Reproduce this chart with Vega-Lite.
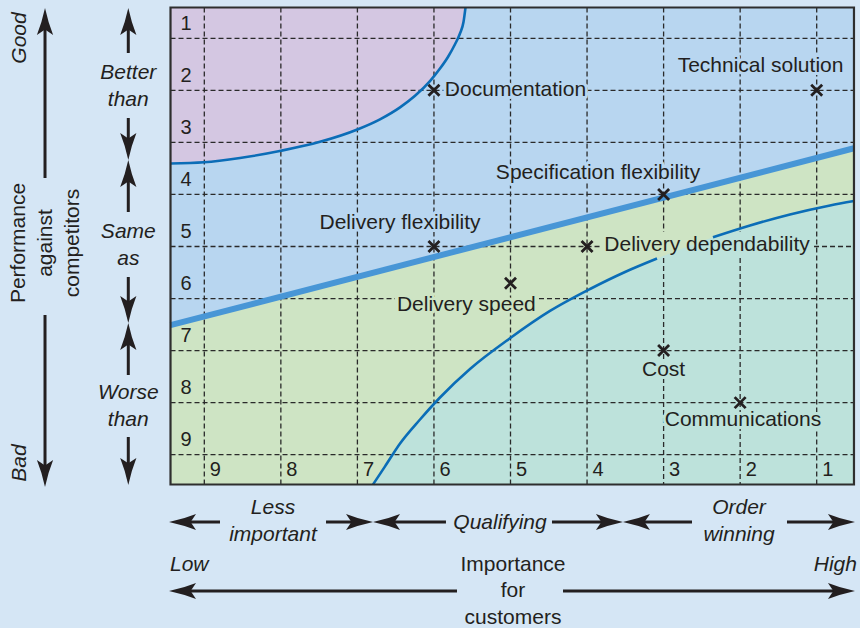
{
  "$schema": "https://vega.github.io/schema/vega-lite/v6.json",
  "width": 860,
  "height": 628,
  "padding": 0,
  "autosize": {"type": "none"},
  "background": "#d5e6f5",
  "config": {"view": {"stroke": null}},
  "datasets": {
    "plot": [{"x": 9.4415, "y": 0.408, "x2": 0.513, "y2": 9.573}],
    "split": [{"x": 9.4415, "y": 6.512}, {"x": 0.513, "y": 3.113}],
    "upper": [
      {"x": 9.4415, "y": 3.405}, {"x": 9.004, "y": 3.382}, {"x": 8.534, "y": 3.3}, {"x": 7.998, "y": 3.161},
      {"x": 7.489, "y": 2.99}, {"x": 6.992, "y": 2.748}, {"x": 6.705, "y": 2.558}, {"x": 6.443, "y": 2.328},
      {"x": 6.247, "y": 2.105}, {"x": 6.052, "y": 1.822}, {"x": 5.921, "y": 1.582}, {"x": 5.817, "y": 1.359},
      {"x": 5.725, "y": 1.115}, {"x": 5.66, "y": 0.908}, {"x": 5.614, "y": 0.687}, {"x": 5.588, "y": 0.408}
    ],
    "lower": [
      {"x": 6.796, "y": 9.573, "seg": "a"}, {"x": 6.639, "y": 9.225, "seg": "a"}, {"x": 6.443, "y": 8.785, "seg": "a"},
      {"x": 6.182, "y": 8.324, "seg": "a"}, {"x": 5.921, "y": 7.901, "seg": "a"}, {"x": 5.529, "y": 7.354, "seg": "a"},
      {"x": 5.007, "y": 6.764, "seg": "a"}, {"x": 4.484, "y": 6.239, "seg": "a"}, {"x": 3.961, "y": 5.817, "seg": "a"},
      {"x": 3.504, "y": 5.49, "seg": "a"}, {"x": 3.086, "y": 5.231, "seg": "a"}, {"x": 2.721, "y": 5.019, "seg": "gap"},
      {"x": 2.355, "y": 4.823, "seg": "b"}, {"x": 1.871, "y": 4.597, "seg": "b"}, {"x": 1.349, "y": 4.385, "seg": "b"},
      {"x": 0.826, "y": 4.212, "seg": "b"}, {"x": 0.513, "y": 4.126, "seg": "b"}
    ],
    "grid": [
      {"x": 9.4415, "y": 1, "x2": 0.513, "y2": 1}, {"x": 9.4415, "y": 2, "x2": 0.513, "y2": 2},
      {"x": 9.4415, "y": 3, "x2": 0.513, "y2": 3}, {"x": 9.4415, "y": 4, "x2": 0.513, "y2": 4},
      {"x": 9.4415, "y": 5, "x2": 3.83, "y2": 5}, {"x": 1.035, "y": 5, "x2": 0.513, "y2": 5},
      {"x": 9.4415, "y": 6, "x2": 6.509, "y2": 6}, {"x": 4.628, "y": 6, "x2": 0.513, "y2": 6},
      {"x": 9.4415, "y": 7, "x2": 0.513, "y2": 7},
      {"x": 9.4415, "y": 8, "x2": 0.513, "y2": 8}, {"x": 9.4415, "y": 9, "x2": 0.513, "y2": 9},
      {"x": 1, "y": 0.408, "x2": 1, "y2": 9.573},
      {"x": 2, "y": 0.408, "x2": 2, "y2": 4.721}, {"x": 2, "y": 5.221, "x2": 2, "y2": 9.573},
      {"x": 3, "y": 0.408, "x2": 3, "y2": 4.721}, {"x": 3, "y": 5.221, "x2": 3, "y2": 9.573},
      {"x": 4, "y": 0.408, "x2": 4, "y2": 9.573}, {"x": 5, "y": 0.408, "x2": 5, "y2": 9.573},
      {"x": 6, "y": 0.408, "x2": 6, "y2": 9.573}, {"x": 7, "y": 0.408, "x2": 7, "y2": 9.573},
      {"x": 8, "y": 0.408, "x2": 8, "y2": 9.573}, {"x": 9, "y": 0.408, "x2": 9, "y2": 9.573}
    ],
    "pts": [
      {"name": "Documentation", "x": 6, "y": 2},
      {"name": "Technical solution", "x": 1, "y": 2},
      {"name": "Specification flexibility", "x": 3, "y": 4},
      {"name": "Delivery flexibility", "x": 6, "y": 5},
      {"name": "Delivery dependability", "x": 4, "y": 5},
      {"name": "Delivery speed", "x": 5, "y": 5.707},
      {"name": "Cost", "x": 3, "y": 7},
      {"name": "Communications", "x": 2, "y": 8}
    ],
    "labels": [
      {"x": 4.935, "y": 1.99, "t": "Documentation", "zone": "blue"},
      {"x": 1.734, "y": 1.532, "t": "Technical solution", "zone": "blue"},
      {"x": 3.857, "y": 3.588, "t": "Specification flexibility", "zone": "blue"},
      {"x": 6.443, "y": 4.549, "t": "Delivery flexibility", "zone": "blue"},
      {"x": 2.433, "y": 4.971, "t": "Delivery dependability", "zone": "none"},
      {"x": 5.577, "y": 6.124, "t": "Delivery speed", "zone": "green"},
      {"x": 3.0, "y": 7.373, "t": "Cost", "zone": "teal"},
      {"x": 1.963, "y": 8.333, "t": "Communications", "zone": "teal"}
    ],
    "nums": [
      {"x": 9.311, "y": 0.725, "t": "1"}, {"x": 9.311, "y": 1.725, "t": "2"}, {"x": 9.311, "y": 2.725, "t": "3"},
      {"x": 9.311, "y": 3.725, "t": "4"}, {"x": 9.311, "y": 4.725, "t": "5"}, {"x": 9.311, "y": 5.725, "t": "6"},
      {"x": 9.311, "y": 6.725, "t": "7"}, {"x": 9.311, "y": 7.725, "t": "8"}, {"x": 9.311, "y": 8.725, "t": "9"},
      {"x": 8.928, "y": 9.294, "t": "9"}, {"x": 7.928, "y": 9.294, "t": "8"}, {"x": 6.928, "y": 9.294, "t": "7"},
      {"x": 5.928, "y": 9.294, "t": "6"}, {"x": 4.928, "y": 9.294, "t": "5"}, {"x": 3.928, "y": 9.294, "t": "4"},
      {"x": 2.928, "y": 9.294, "t": "3"}, {"x": 1.928, "y": 9.294, "t": "2"}, {"x": 0.928, "y": 9.294, "t": "1"}
    ],
    "arrows": [
      {"x": 11.081, "y": 3.684, "xe": 11.081, "ye": 0.61, "xt": 11.081, "yt": 0.418, "dir": 0},
      {"x": 11.081, "y": 6.316, "xe": 11.081, "ye": 9.429, "xt": 11.081, "yt": 9.621, "dir": 180},
      {"x": 9.993, "y": 1.282, "xe": 9.993, "ye": 0.61, "xt": 9.993, "yt": 0.418, "dir": 0},
      {"x": 9.993, "y": 2.531, "xe": 9.993, "ye": 3.146, "xt": 9.993, "yt": 3.338, "dir": 180},
      {"x": 9.993, "y": 4.337, "xe": 9.993, "ye": 3.53, "xt": 9.993, "yt": 3.338, "dir": 0},
      {"x": 9.993, "y": 5.586, "xe": 9.993, "ye": 6.278, "xt": 9.993, "yt": 6.47, "dir": 180},
      {"x": 9.993, "y": 7.469, "xe": 9.993, "ye": 6.662, "xt": 9.993, "yt": 6.47, "dir": 0},
      {"x": 9.993, "y": 8.66, "xe": 9.993, "ye": 9.39, "xt": 9.993, "yt": 9.582, "dir": 180},
      {"x": 8.795, "y": 10.293, "xe": 9.33, "ye": 10.293, "xt": 9.461, "yt": 10.293, "dir": 270},
      {"x": 7.41, "y": 10.293, "xe": 6.927, "ye": 10.293, "xt": 6.796, "yt": 10.293, "dir": 90},
      {"x": 5.843, "y": 10.293, "xe": 6.665, "ye": 10.293, "xt": 6.796, "yt": 10.293, "dir": 270},
      {"x": 4.458, "y": 10.293, "xe": 3.662, "ye": 10.293, "xt": 3.531, "yt": 10.293, "dir": 90},
      {"x": 2.629, "y": 10.293, "xe": 3.4, "ye": 10.293, "xt": 3.531, "yt": 10.293, "dir": 270},
      {"x": 1.388, "y": 10.293, "xe": 0.631, "ye": 10.293, "xt": 0.5, "yt": 10.293, "dir": 90},
      {"x": 5.699, "y": 11.619, "xe": 9.33, "ye": 11.619, "xt": 9.461, "yt": 11.619, "dir": 270},
      {"x": 4.314, "y": 11.619, "xe": 0.631, "ye": 11.619, "xt": 0.5, "yt": 11.619, "dir": 90}
    ],
    "notes": [
      {"x": 11.408, "y": 0.994, "t": "Good", "kind": "rotI"},
      {"x": 11.414, "y": 9.159, "t": "Bad", "kind": "rotI"},
      {"x": 11.421, "y": 4.933, "t": "Performance\nagainst\ncompetitors", "kind": "rot"},
      {"x": 9.993, "y": 1.667, "t": "Better\nthan", "kind": "ctrI"},
      {"x": 9.993, "y": 4.722, "t": "Same\nas", "kind": "ctrI"},
      {"x": 9.993, "y": 7.815, "t": "Worse\nthan", "kind": "ctrI"},
      {"x": 8.103, "y": 10.024, "t": "Less\nimportant", "kind": "ctrI"},
      {"x": 5.137, "y": 10.312, "t": "Qualifying", "kind": "ctrI"},
      {"x": 2.015, "y": 10.024, "t": "Order\nwinning", "kind": "ctrI"},
      {"x": 4.967, "y": 11.119, "t": "Importance\nfor\ncustomers", "kind": "ctr"},
      {"x": 9.448, "y": 11.119, "t": "Low", "kind": "leftI"},
      {"x": 0.474, "y": 11.119, "t": "High", "kind": "rightI"}
    ]
  },
  "encoding": {
    "x": {"field": "x", "type": "quantitative", "axis": null, "scale": {"domain": [0.4343, 11.669], "reverse": true, "nice": false, "zero": false}},
    "y": {"field": "y", "type": "quantitative", "axis": null, "scale": {"domain": [0.2642, 12.33], "reverse": true, "nice": false, "zero": false}}
  },
  "layer": [
    {"data": {"name": "plot"}, "mark": {"type": "rect", "fill": "#b8d6f0"}, "encoding": {"x2": {"field": "x2"}, "y2": {"field": "y2"}}},
    {"data": {"name": "split"}, "mark": {"type": "area", "color": "#cee4c4"}, "encoding": {"y2": {"datum": 9.573}}},
    {"data": {"name": "lower"}, "mark": {"type": "area", "color": "#bde2db", "interpolate": "monotone"}, "encoding": {"y2": {"datum": 9.573}}},
    {"data": {"name": "upper"}, "mark": {"type": "area", "color": "#d4c7e2", "interpolate": "monotone"}, "encoding": {"y2": {"datum": 0.408}}},
    {"data": {"name": "grid"}, "mark": {"type": "rule", "color": "#2a2a2a", "strokeWidth": 1.3, "strokeDash": [5, 3]}, "encoding": {"x2": {"field": "x2"}, "y2": {"field": "y2"}}},
    {"data": {"name": "split"}, "mark": {"type": "line", "color": "#4896d6", "strokeWidth": 6}, "encoding": {}},
    {"data": {"name": "upper"}, "mark": {"type": "line", "color": "#0b6db7", "strokeWidth": 2.6, "interpolate": "monotone"}, "encoding": {}},
    {"data": {"name": "lower"}, "transform": [{"filter": "datum.seg !== 'gap'"}], "mark": {"type": "line", "color": "#0b6db7", "strokeWidth": 2.6, "interpolate": "monotone"}, "encoding": {"detail": {"field": "seg", "type": "nominal"}}},
    {"data": {"name": "labels"}, "transform": [{"filter": "datum.zone !== 'none'"}],
      "mark": {"type": "text", "font": "Liberation Sans", "fontSize": 21, "align": "center", "baseline": "middle", "strokeWidth": 6, "strokeJoin": "round"},
      "encoding": {
        "text": {"field": "t"},
        "color": {"field": "zone", "type": "nominal", "legend": null, "scale": {"domain": ["blue", "green", "teal"], "range": ["#b8d6f0", "#cee4c4", "#bde2db"]}},
        "stroke": {"field": "zone", "type": "nominal", "legend": null, "scale": {"domain": ["blue", "green", "teal"], "range": ["#b8d6f0", "#cee4c4", "#bde2db"]}}
      }},
    {"data": {"name": "pts"}, "mark": {"type": "point", "shape": "M-1,-1L1,1M-1,1L1,-1", "size": 121, "filled": false, "color": "#231f20", "strokeWidth": 2.8, "opacity": 1}, "encoding": {}},
    {"data": {"name": "labels"}, "mark": {"type": "text", "font": "Liberation Sans", "fontSize": 21, "align": "center", "baseline": "middle", "color": "#231f20"}, "encoding": {"text": {"field": "t"}}},
    {"data": {"name": "nums"}, "mark": {"type": "text", "font": "Liberation Sans", "fontSize": 20, "align": "left", "baseline": "middle", "color": "#231f20"}, "encoding": {"text": {"field": "t"}}},
    {"data": {"name": "plot"}, "mark": {"type": "rect", "filled": false, "color": "#2e2e2e", "strokeWidth": 2.2}, "encoding": {"x2": {"field": "x2"}, "y2": {"field": "y2"}}},
    {"data": {"name": "arrows"}, "mark": {"type": "rule", "color": "#231f20", "strokeWidth": 3}, "encoding": {"x2": {"field": "xe"}, "y2": {"field": "ye"}}},
    {"data": {"name": "arrows"}, "mark": {"type": "point", "shape": "M0,0Q0.12,0.55 0.3,1L0,0.8L-0.3,1Q-0.12,0.55 0,0Z", "size": 2916, "filled": true, "color": "#231f20", "opacity": 1, "strokeWidth": 0},
      "encoding": {
        "x": {"field": "xt", "type": "quantitative", "axis": null, "scale": {"domain": [0.4343, 11.669], "reverse": true, "nice": false, "zero": false}},
        "y": {"field": "yt", "type": "quantitative", "axis": null, "scale": {"domain": [0.2642, 12.33], "reverse": true, "nice": false, "zero": false}},
        "angle": {"field": "dir", "type": "quantitative", "scale": null}
      }},
    {"data": {"name": "notes"}, "transform": [{"filter": "datum.kind === 'rotI'"}], "mark": {"type": "text", "font": "Liberation Sans", "fontSize": 21, "fontStyle": "italic", "angle": 270, "align": "center", "baseline": "middle", "color": "#231f20"}, "encoding": {"text": {"field": "t"}}},
    {"data": {"name": "notes"}, "transform": [{"filter": "datum.kind === 'rot'"}], "mark": {"type": "text", "font": "Liberation Sans", "fontSize": 21, "angle": 270, "align": "center", "baseline": "middle", "lineBreak": "\n", "lineHeight": 27, "color": "#231f20"}, "encoding": {"text": {"field": "t"}}},
    {"data": {"name": "notes"}, "transform": [{"filter": "datum.kind === 'ctrI'"}], "mark": {"type": "text", "font": "Liberation Sans", "fontSize": 21, "fontStyle": "italic", "align": "center", "baseline": "middle", "lineBreak": "\n", "lineHeight": 27, "color": "#231f20"}, "encoding": {"text": {"field": "t"}}},
    {"data": {"name": "notes"}, "transform": [{"filter": "datum.kind === 'ctr'"}], "mark": {"type": "text", "font": "Liberation Sans", "fontSize": 21, "align": "center", "baseline": "middle", "lineBreak": "\n", "lineHeight": 26.5, "color": "#231f20"}, "encoding": {"text": {"field": "t"}}},
    {"data": {"name": "notes"}, "transform": [{"filter": "datum.kind === 'leftI'"}], "mark": {"type": "text", "font": "Liberation Sans", "fontSize": 21, "fontStyle": "italic", "align": "left", "baseline": "middle", "color": "#231f20"}, "encoding": {"text": {"field": "t"}}},
    {"data": {"name": "notes"}, "transform": [{"filter": "datum.kind === 'rightI'"}], "mark": {"type": "text", "font": "Liberation Sans", "fontSize": 21, "fontStyle": "italic", "align": "right", "baseline": "middle", "color": "#231f20"}, "encoding": {"text": {"field": "t"}}}
  ]
}
